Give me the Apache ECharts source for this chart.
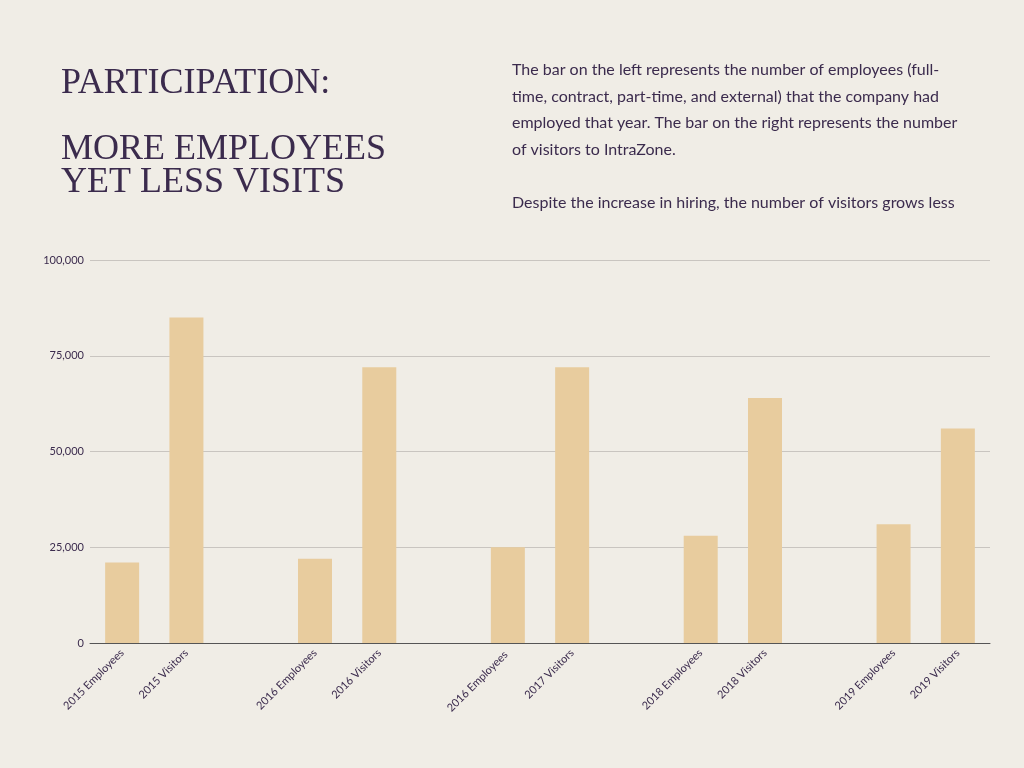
<!DOCTYPE html>
<html>
<head>
<meta charset="utf-8">
<script src="https://cdn.jsdelivr.net/npm/echarts@6/dist/echarts.min.js"></script>
<style>
  html, body { margin: 0; padding: 0; background: #f0ede6; }
  #chart { width: 1024px; height: 768px; }
</style>
</head>
<body>
<div id="chart"></div>
<script>
// categories incl. blank spacer slots between year pairs
const categories = [
  "2015 Employees", "2015 Visitors", "",
  "2016 Employees", "2016 Visitors", " ",
  "2016 Employees ", "2017 Visitors", "  ",
  "2018 Employees", "2018 Visitors", "   ",
  "2019 Employees", "2019 Visitors"
];
const values = [21000, 85000, null, 22000, 72000, null, 25000, 72000, null, 28000, 64000, null, 31000, 56000];
const yTicks = [0, 25000, 50000, 75000, 100000];

const textColor = "#3b2b4d";
const chart = echarts.init(document.getElementById("chart"));
chart.setOption({
  backgroundColor: "#f0ede6",
  title: [
    {
      text: "PARTICIPATION:\n\nMORE EMPLOYEES\nYET LESS VISITS",
      left: 56, top: 62,
      textStyle: { color: textColor, fontSize: 36, fontWeight: "normal", fontFamily: "Liberation Serif", lineHeight: 33 }
    },
    {
      text: "The bar on the left represents the number of employees (full-\ntime, contract, part-time, and external) that the company had\nemployed that year. The bar on the right represents the number\nof visitors to IntraZone.\n\nDespite the increase in hiring, the number of visitors grows less",
      left: 507, top: 52,
      textStyle: { color: textColor, fontSize: 16, fontWeight: "normal", fontFamily: "Lato", lineHeight: 26.5 }
    }
  ],
  grid: { left: 90, right: 34, top: 260, bottom: 125 },
  xAxis: {
    type: "category",
    data: categories,
    axisTick: { show: false },
    axisLine: { lineStyle: { color: "#555" } },
    axisLabel: { interval: 0, rotate: 45, color: textColor, fontSize: 11, fontFamily: "Lato" }
  },
  yAxis: {
    type: "value",
    min: 0, max: 100000, interval: 25000,
    axisLabel: {
      color: textColor, fontSize: 11, fontFamily: "Lato", margin: 6,
      formatter: v => yTicks.includes(v) ? v.toLocaleString("en-US") : ""
    },
    splitLine: { lineStyle: { color: "#c9c5c0" } }
  },
  series: [{
    type: "bar",
    data: values,
    barWidth: 34,
    itemStyle: { color: "#e8cc9e" }
  }]
});
</script>
</body>
</html>
